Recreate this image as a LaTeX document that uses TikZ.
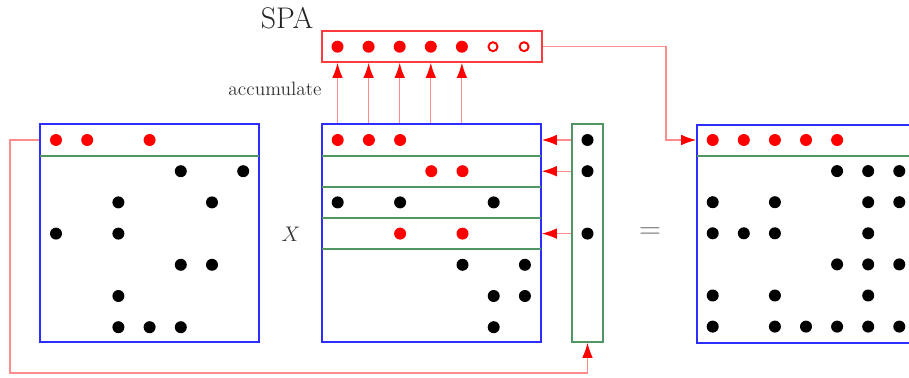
\documentclass[tikz,border=0pt]{standalone}
\usetikzlibrary{arrows.meta}
\definecolor{boxblue}{RGB}{45,45,255}
\definecolor{rowgreen}{RGB}{80,150,100}
\definecolor{linkred}{RGB}{255,140,140}
\definecolor{spared}{RGB}{255,60,60}
\begin{document}
\begin{tikzpicture}[x=0.02cm,y=-0.02cm,
  dot/.style={circle,inner sep=0pt,minimum size=0.24cm},
  nz/.style={dot,fill=black},
  hot/.style={dot,fill=red},
  hollow/.style={circle,inner sep=0pt,minimum size=0.18cm,draw=red,line width=1.1pt,fill=white},
  matbox/.style={draw=boxblue,line width=1pt,inner sep=0pt,minimum width=4.38cm,minimum height=4.36cm},
  vecbox/.style={draw=rowgreen,line width=1pt,inner sep=0pt,minimum width=0.62cm,minimum height=4.36cm},
  spabox/.style={draw=spared,line width=1pt,inner sep=0pt,minimum width=4.4cm,minimum height=0.62cm},
  rowline/.style={draw=rowgreen,line width=1pt},
  link/.style={draw=linkred,line width=0.65pt},
  tip/.style={-{Latex[length=8.5pt,width=6pt,color=red]}}
]
\useasboundingbox (0,0) rectangle (909,378);
\clip (0,0) rectangle (909,378);

% ---- left operand A ----
\node[matbox] (Lbox) at (149.5,233) {};
\draw[rowline] (40,156) -- (259,156);
\foreach \c in {0,1,3}
  \node[hot] (L-0-\c) at ({56+31.2*\c},140) {};
\foreach \r/\cl in {1/{4,6},2/{2,5},3/{0,2},4/{4,5},5/{2},6/{2,3,4}}
  \foreach \c in \cl
    \node[nz] (L-\r-\c) at ({56+31.2*\c},{140+31.2*\r}) {};

% ---- right operand B ----
\node[matbox] (Mbox) at (431.5,233) {};
\foreach \y in {156,187,218,249}
  \draw[rowline] (322,\y) -- (541,\y);
\foreach \r/\cl in {0/{0,1,2},1/{3,4},3/{2,4}}
  \foreach \c in \cl
    \node[hot] (M-\r-\c) at ({337.7+31.2*\c},{140+31.2*\r}) {};
\foreach \r/\cl in {2/{0,2,5},4/{4,6},5/{5,6},6/{5}}
  \foreach \c in \cl
    \node[nz] (M-\r-\c) at ({337.7+31.2*\c},{140+31.2*\r}) {};

% ---- selected row of A, as a column ----
\node[vecbox] (Vbox) at (587.5,233) {};
\foreach \r in {0,1,3}
  \node[nz] (V-\r) at (587.5,{140+31.2*\r}) {};

% ---- result C ----
\node[matbox] (Rbox) at (806.5,234) {};
\draw[rowline] (697,156) -- (916,156);
\foreach \c in {0,...,4}
  \node[hot] (R-0-\c) at ({712.7+31.1*\c},140) {};
\foreach \r/\cl in {1/{4,5,6},2/{0,2,5,6},3/{0,1,2,5},4/{4,5,6},5/{0,2,5},6/{0,2,3,4,5,6}}
  \foreach \c in \cl
    \node[nz] (R-\r-\c) at ({712.7+31.1*\c},{140+31.1*\r}) {};

% ---- sparse accumulator ----
\node[spabox] (spa) at (432,46.5) {};
\foreach \k in {0,...,4}
  \node[hot] (S-\k) at ({337.5+31.1*\k},46.7) {};
\foreach \k in {5,6}
  \node[hollow] (S-\k) at ({337.5+31.1*\k},46.7) {};

% ---- labels ----
\node[text=black!85,font=\fontsize{17}{20}\selectfont] (spalabel) at (287,18) {SPA};
\node[text=black!80,font=\fontsize{11}{13}\selectfont] (acclabel) at (275,89) {accumulate};
\node[text=black!80,font=\fontsize{12}{14}\selectfont] (times) at (291,234) {$X$};
\node[text=black!55,font=\fontsize{17}{20}\selectfont] (equals) at (650,233) {$=$};

% ---- connectors ----
\coordinate (loopA) at (10,140);
\coordinate (loopB) at (10,373);
\draw[link,tip] (Lbox.west |- L-0-0) -- (loopA) -- (loopB) -| (Vbox.south);
\foreach \r in {0,1,3}
  \draw[link,tip] (Vbox.west |- V-\r) -- (Mbox.east |- V-\r);
\foreach \k in {0,...,4}
  \draw[link,tip] (S-\k |- Mbox.north) -- (S-\k |- spa.south);
\coordinate (turn) at (666,140);
\draw[link,tip] (spa.east) -| (turn) -- (Rbox.west |- R-0-0);
\end{tikzpicture}
\end{document}
